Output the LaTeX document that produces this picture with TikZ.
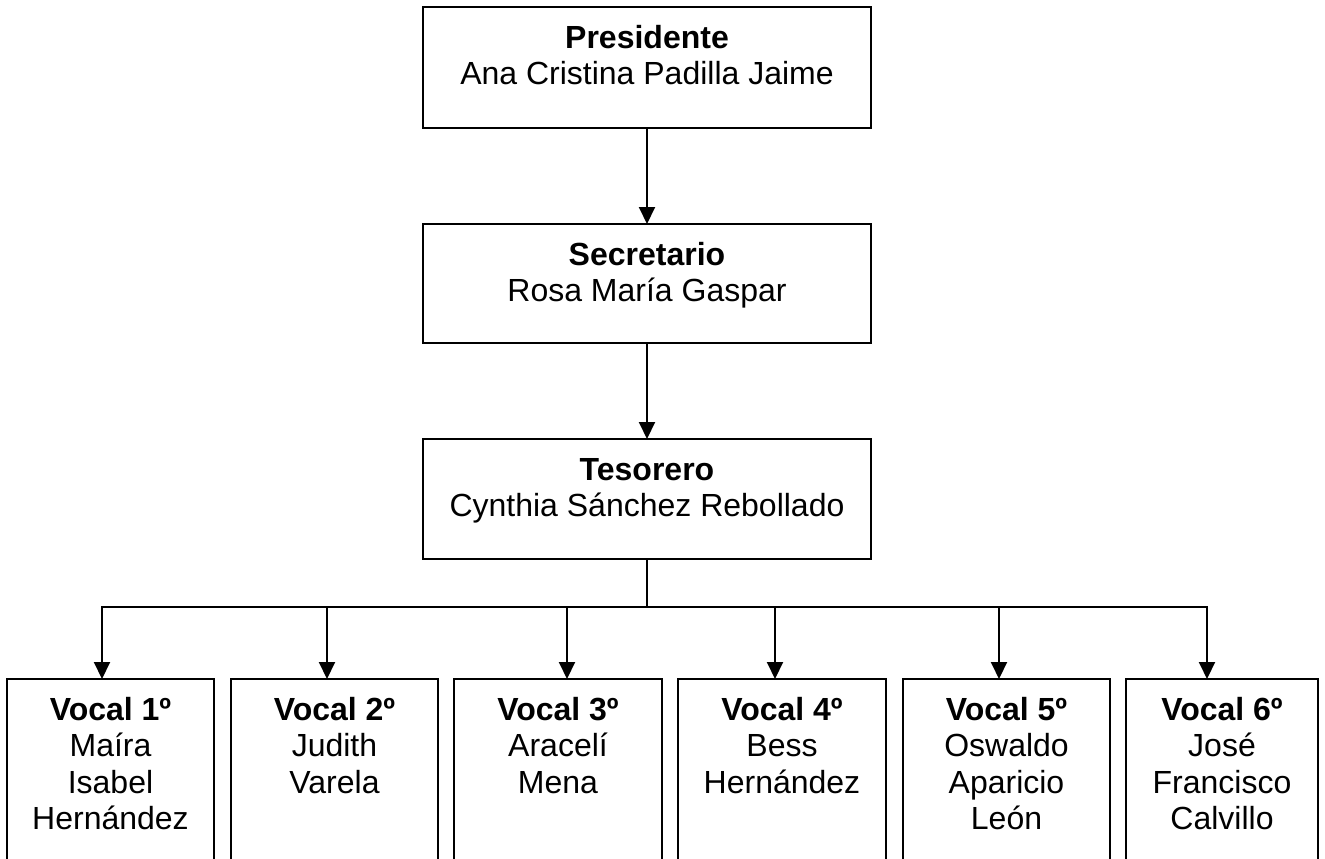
\documentclass[tikz,border=0pt]{standalone}
\usepackage{fontspec}
\setmainfont{Liberation Sans}
\usetikzlibrary{arrows.meta}
\newcommand\mystrut{\rule{0pt}{25pt}}
\begin{document}
\begin{tikzpicture}[x=1pt,y=-1pt,
  box/.style={draw=black, line width=2pt, rectangle, inner sep=0pt, outer sep=0pt},
  txt/.style={inner sep=0pt, align=center, anchor=north, font=\fontsize{32}{36.5}\selectfont},
  conn/.style={line width=2pt, draw=black},
  arr/.style={conn, -{Triangle[width=16pt,length=17pt]}}
]
\useasboundingbox (0,0) rectangle (1325,859);
% top chain
\node[box, minimum width=448pt, minimum height=121pt] (pres) at (647,67.5) {};
\node[box, minimum width=448pt, minimum height=119pt] (sec) at (647,283.5) {};
\node[box, minimum width=448pt, minimum height=120pt] (tes) at (647,499) {};
\node[txt] (presT) at (647,23) {\mystrut\textbf{Presidente}\\Ana Cristina Padilla Jaime};
\node[txt] (secT) at (647,240) {\mystrut\textbf{Secretario}\\Rosa María Gaspar};
\node[txt] (tesT) at (647,455) {\mystrut\textbf{Tesorero}\\Cynthia Sánchez Rebollado};
\draw[arr] (pres.south) -- (sec.north);
\draw[arr] (sec.south) -- (tes.north);
% bottom boxes
\node[box, minimum width=207pt, minimum height=281pt] (v1) at (110.5,819.5) {};
\node[box, minimum width=207pt, minimum height=281pt] (v2) at (334.5,819.5) {};
\node[box, minimum width=208pt, minimum height=281pt] (v3) at (558,819.5) {};
\node[box, minimum width=208pt, minimum height=281pt] (v4) at (782,819.5) {};
\node[box, minimum width=207pt, minimum height=281pt] (v5) at (1006.5,819.5) {};
\node[box, minimum width=192pt, minimum height=281pt] (v6) at (1222,819.5) {};
\node[txt] (v1T) at (110.5,695) {\mystrut\textbf{Vocal 1º}\\Maíra\\Isabel\\Hernández};
\node[txt] (v2T) at (334.5,695) {\mystrut\textbf{Vocal 2º}\\Judith\\Varela};
\node[txt] (v3T) at (558,695) {\mystrut\textbf{Vocal 3º}\\Aracelí\\Mena};
\node[txt] (v4T) at (782,695) {\mystrut\textbf{Vocal 4º}\\Bess\\Hernández};
\node[txt] (v5T) at (1006.5,695) {\mystrut\textbf{Vocal 5º}\\Oswaldo\\Aparicio\\León};
\node[txt] (v6T) at (1222,695) {\mystrut\textbf{Vocal 6º}\\José\\Francisco\\Calvillo};
% distribution bar
\coordinate (bar) at (647,607);
\coordinate (b1) at (102,607);
\coordinate (b2) at (327,607);
\coordinate (b3) at (567,607);
\coordinate (b4) at (775,607);
\coordinate (b5) at (999,607);
\coordinate (b6) at (1207,607);
\draw[conn] (tes.south) -- (bar);
\draw[conn, line cap=rect] (b1) -- (b6);
\draw[arr] (b1) -- (b1 |- v1.north);
\draw[arr] (b2) -- (b2 |- v2.north);
\draw[arr] (b3) -- (b3 |- v3.north);
\draw[arr] (b4) -- (b4 |- v4.north);
\draw[arr] (b5) -- (b5 |- v5.north);
\draw[arr] (b6) -- (b6 |- v6.north);
\end{tikzpicture}
\end{document}
